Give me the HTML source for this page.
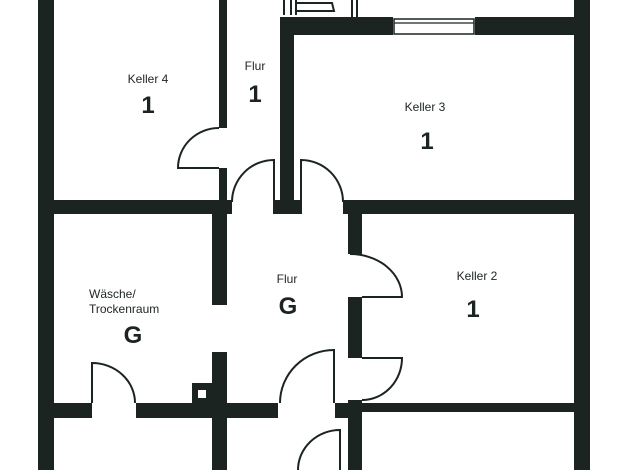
<!DOCTYPE html>
<html><head><meta charset="utf-8"><style>
html,body{margin:0;padding:0;background:#fff;}
svg{display:block;}
text{font-family:"Liberation Sans",Arial,sans-serif;fill:#1c2422;text-anchor:middle;}
</style></head><body>
<svg width="626" height="470" viewBox="0 0 626 470" xmlns="http://www.w3.org/2000/svg">
<rect width="626" height="470" fill="#fff"/>
<g fill="#1c2422">
<!-- outer walls -->
<rect x="38" y="0" width="16" height="470"/>
<rect x="574" y="0" width="16" height="470"/>
<!-- keller4 right wall -->
<rect x="219" y="0" width="8" height="128"/>
<rect x="219" y="168" width="8" height="46"/>
<!-- horizontal y200 left -->
<rect x="54" y="200" width="178" height="14"/>
<!-- central wall -->
<rect x="280" y="17" width="14" height="197"/>
<rect x="274" y="200" width="27" height="14"/>
<!-- top wall with window -->
<rect x="280" y="17" width="113" height="18"/>
<rect x="475" y="17" width="99" height="18"/>
<!-- keller3 bottom -->
<rect x="343" y="200" width="247" height="14"/>
<!-- lower verticals -->
<rect x="212" y="214" width="15" height="91"/>
<rect x="212" y="352" width="15" height="118"/>
<rect x="348" y="214" width="14" height="40"/>
<rect x="348" y="297" width="14" height="61"/>
<rect x="348" y="400" width="14" height="70"/>
<!-- horizontal y403 -->
<rect x="54" y="403" width="38" height="15"/>
<rect x="136" y="403" width="142" height="15"/>
<rect x="335" y="403" width="27" height="15"/>
<rect x="362" y="403" width="212" height="9"/>
<!-- small square -->
<rect x="192" y="383" width="20" height="20"/>
</g>
<rect x="198" y="390" width="8" height="8" fill="#fff"/>
<g fill="none" stroke="#1c2422" stroke-width="2">
<!-- window -->
<rect x="394" y="19" width="80" height="15" stroke-width="1.5"/>
<line x1="394" y1="23" x2="474" y2="23" stroke-width="1.2"/>
<!-- fixtures top -->
<line x1="284" y1="0" x2="284" y2="15"/>
<line x1="291" y1="0" x2="291" y2="15"/>
<line x1="296" y1="0" x2="296" y2="15"/>
<path d="M296 3 L332 3 L334 11 L296 11"/>
<line x1="352" y1="0" x2="352" y2="18"/>
<line x1="357" y1="0" x2="357" y2="18"/>
<!-- doors -->
<path d="M219 128 A41 40 0 0 0 178 168 L219 168"/>
<path d="M274 214 L274 160 A42 42 0 0 0 232 202"/>
<path d="M301 214 L301 160 A42 42 0 0 1 343 202"/>
<path d="M350 254 A52 43 0 0 1 402 297 L362 297"/>
<path d="M362 358 L402 358 A40 42 0 0 1 362 400"/>
<path d="M92 403 L92 363 A43 40 0 0 1 135 403"/>
<path d="M334 403 L334 350 A54 53 0 0 0 280 403"/>
<path d="M340 470 L340 430 A42 40 0 0 0 298 470"/>
</g>
<text x="148" y="83" font-size="12">Keller 4</text>
<text x="148" y="113" font-size="24" font-weight="bold">1</text>
<text x="255" y="70" font-size="12">Flur</text>
<text x="255" y="102" font-size="24" font-weight="bold">1</text>
<text x="425" y="111" font-size="12">Keller 3</text>
<text x="427" y="149" font-size="24" font-weight="bold">1</text>
<text x="287" y="283" font-size="12">Flur</text>
<text x="288" y="314" font-size="24" font-weight="bold">G</text>
<text x="89" y="298" font-size="12" style="text-anchor:start">Wäsche/</text>
<text x="89" y="313" font-size="12" style="text-anchor:start">Trockenraum</text>
<text x="133" y="343" font-size="24" font-weight="bold">G</text>
<text x="477" y="280" font-size="12">Keller 2</text>
<text x="473" y="317" font-size="24" font-weight="bold">1</text>
</svg>
</body></html>
